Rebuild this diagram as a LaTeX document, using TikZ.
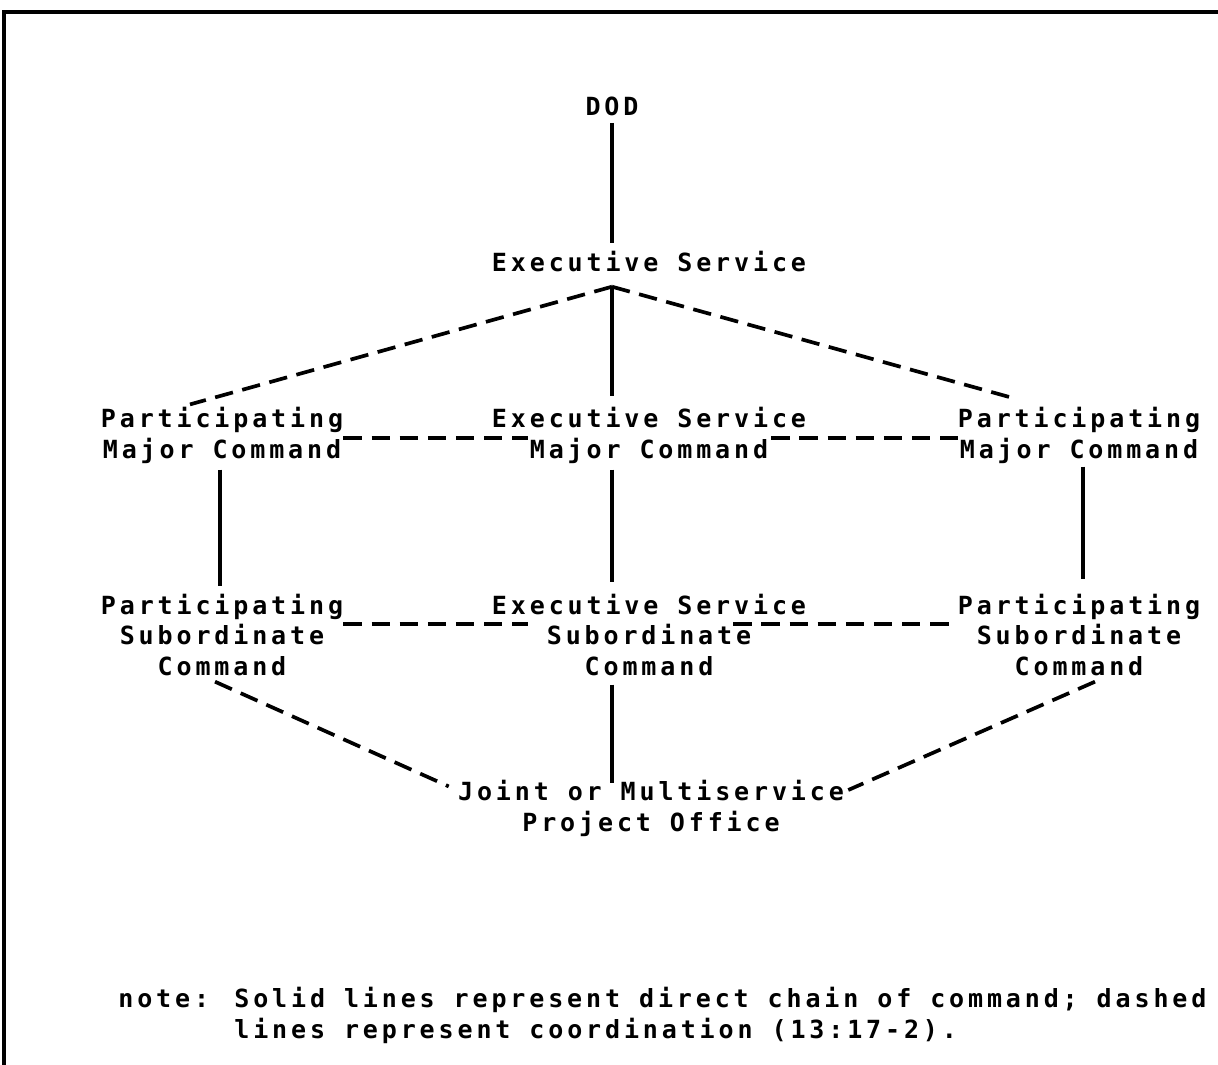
\documentclass[tikz,border=0pt]{standalone}
\usepackage{fontspec}
\newfontfamily\orgfont{DejaVu Sans Mono}[LetterSpace=15.5]
\usepackage{tikz}
\usetikzlibrary{calc}
\definecolor{ink}{HTML}{000000}
\tikzset{
  unit/.style  ={align=center,inner sep=0pt,text=ink,
                 font=\orgfont\bfseries\fontsize{14.23pt}{17.64pt}\selectfont},
  chain/.style ={draw=ink,line width=2pt},
  coord/.style ={draw=ink,line width=2.1pt,dash pattern=on 10.5pt off 5.5pt},
  frame/.style ={draw=ink,line width=2.2pt}
}

\begin{document}
\begin{tikzpicture}[x=0.02cm,y=-0.02cm]
  \useasboundingbox (0,0) rectangle (1218,1065);
  \draw[frame] (4,1065) -- (4,12) -- (1218,12);
  % top of the chain
  \node[unit] (dod) at (612,106) {DOD};
  \node[unit] (exec) at (649,262) {Executive Service};
  % major commands
  \node[unit] (pmajL) at (222,435) {Participating\\Major Command};
  \node[unit] (emaj) at (649,435) {Executive Service\\Major Command};
  \node[unit] (pmajR) at (1079,435) {Participating\\Major Command};
  % subordinate commands
  \node[unit] (psubL) at (222,635) {Participating\\Subordinate\\Command};
  \node[unit] (esub) at (649,635) {Executive Service\\Subordinate\\Command};
  \node[unit] (psubR) at (1079,635) {Participating\\Subordinate\\Command};
  % project office
  \node[unit] (jpo) at (651,808) {Joint or Multiservice\\Project Office};
  \node[unit,align=left,anchor=west] (note) at (118,1015)
    {note: Solid lines represent direct chain of command; dashed\\
     \phantom{note: }lines represent coordination (13:17-2).};
  \path (exec.south -| dod.south) ++(0,14) coordinate (apex);
  % solid lines
  \draw[chain] ($(dod.south)+(0,7)$) -- ($(exec.north -| dod.south)+(0,-8)$);
  \draw[chain] (apex) -- ($(emaj.north -| apex)+(0,-10)$);
  \draw[chain] ($(pmajL.south)+(-2,6)$) -- ($(psubL.north)+(-2,-7)$);
  \draw[chain] ($(emaj.south -| apex)+(0,6)$) -- ($(esub.north -| apex)+(0,-11)$);
  \draw[chain] ($(pmajR.south)+(4,3)$) -- ($(psubR.north)+(4,-14)$);
  \draw[chain] ($(esub.south -| apex)+(0,8)$) -- ($(jpo.north -| apex)+(0,4)$);
  % dashed lines
  \draw[coord] (apex) -- ($(pmajL.north)+(-32,-2)$);
  \draw[coord] (apex) -- ($(pmajR.north)+(-61,-7)$);
  \draw[coord] ($(pmajL.east)+(0,3)$) -- ($(emaj.west)+(36,3)$);
  \draw[coord] ($(emaj.east)+(-35,3)$) -- ($(pmajR.west)+(0,3)$);
  \draw[coord] ($(psubL.east)+(0,-11)$) -- ($(esub.west)+(36,-11)$);
  \draw[coord] ($(esub.east)+(-73,-11)$) -- ($(psubR.west)+(0,-11)$);
  \draw[coord] ($(psubL.south)+(-7,5)$) -- ($(jpo.north west)+(-9,7)$);
  \draw[coord] ($(psubR.south)+(16,5)$) -- ($(jpo.east)+(4,-18)$);
\end{tikzpicture}
\end{document}
